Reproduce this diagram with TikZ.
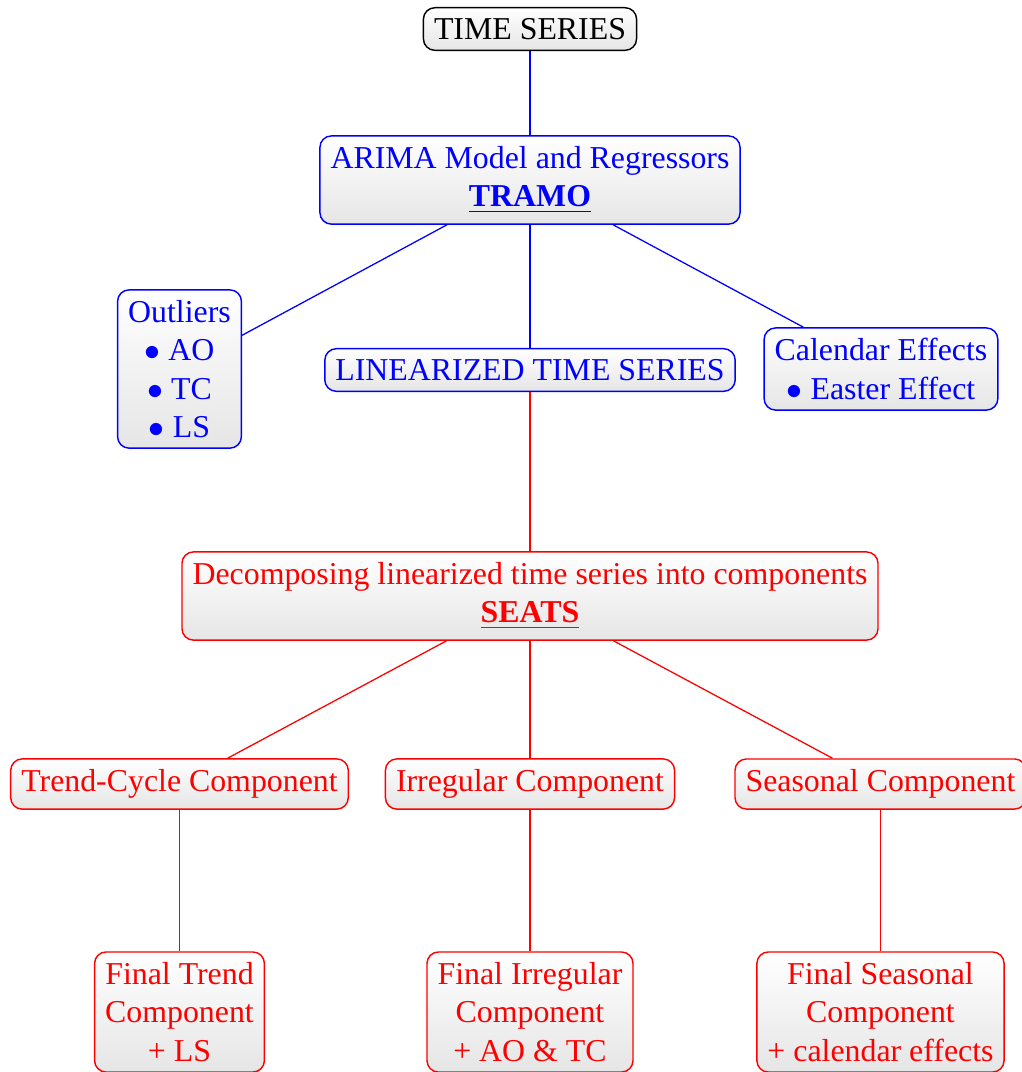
\documentclass[tikz,border=0pt]{standalone}
\usepackage{fontspec}
\setmainfont{Liberation Serif}
\begin{document}
\begin{tikzpicture}[x=0.314pt,y=-0.314pt,
  font=\fontsize{10}{12}\selectfont,
  box/.style={rounded corners=3.6pt, align=center, line width=0.45pt,
    top color=white, bottom color=black!10, inner sep=3.33pt},
  bluebox/.style={box, draw=blue, text=blue},
  redbox/.style={box, draw=red, text=red},
  blackbox/.style={box, draw=black, text=black},
  blueline/.style={draw=blue, line width=0.4pt},
  redline/.style={draw=red, line width=0.4pt}]
\useasboundingbox (0,0) rectangle (1022,1072);
% nodes
\node[blackbox] (ts) at (530,29) {TIME SERIES};
\node[bluebox] (arima) at (530,180) {ARIMA Model and Regressors\\\underline{\textbf{TRAMO}}};
\node[bluebox] (out) at (179.5,369) {Outliers\\$\bullet$ AO\\$\bullet$ TC\\$\bullet$ LS};
\node[bluebox] (lin) at (530,370) {LINEARIZED TIME SERIES};
\node[bluebox] (cal) at (881,369) {Calendar Effects\\$\bullet$ Easter Effect};
\node[redbox] (dec) at (530,596) {Decomposing linearized time series into components\\\underline{\textbf{SEATS}}};
\node[redbox] (tc) at (179.5,784) {Trend-Cycle Component};
\node[redbox] (irr) at (530,784) {Irregular Component};
\node[redbox] (sea) at (880.5,784) {Seasonal Component};
\node[redbox] (ft) at (179.5,1012) {Final Trend\\Component\\+ LS};
\node[redbox] (fi) at (530,1012) {Final Irregular\\Component\\+ AO \& TC};
\node[redbox] (fs) at (880.5,1012) {Final Seasonal\\Component\\+ calendar effects};
% connectors
\draw[blueline] (ts) -- (arima);
\draw[blueline] (arima) -- (out);
\draw[blueline] (arima) -- (lin);
\draw[blueline] (arima) -- (cal);
\draw[redline] (lin) -- (dec);
\draw[redline] (dec) -- (tc);
\draw[redline] (dec) -- (irr);
\draw[redline] (dec) -- (sea);
\draw[redline] (tc) -- (ft);
\draw[redline] (irr) -- (fi);
\draw[redline] (sea) -- (fs);
\end{tikzpicture}
\end{document}
